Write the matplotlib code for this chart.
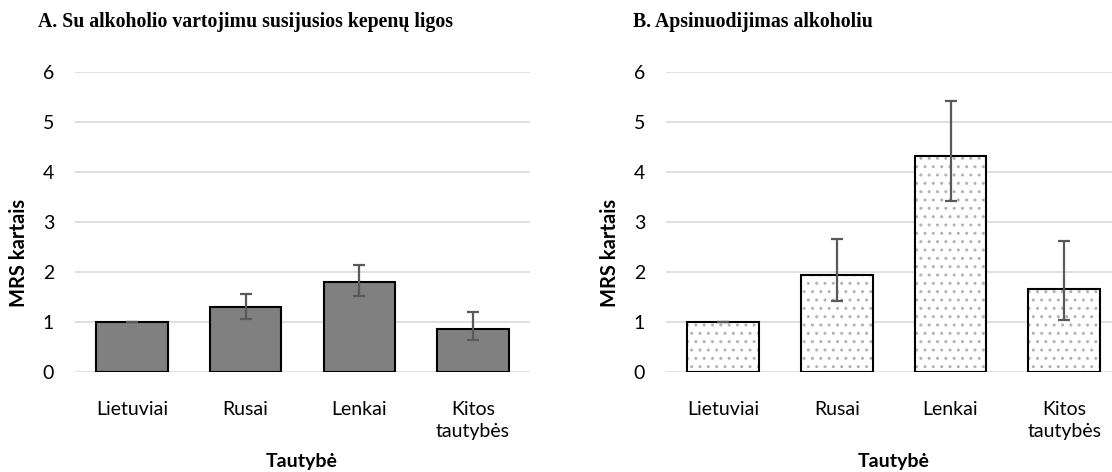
import matplotlib
matplotlib.use("Agg")
import matplotlib.pyplot as plt
import numpy as np

categories = ["Lietuviai", "Rusai", "Lenkai", "Kitos\ntautybės"]

# Panel A: alcohol-related liver disease
a_values = [1.00, 1.30, 1.80, 0.87]
a_low = [1.00, 1.07, 1.52, 0.65]
a_high = [1.00, 1.57, 2.14, 1.20]

# Panel B: alcohol poisoning
b_values = [1.00, 1.94, 4.32, 1.67]
b_low = [1.00, 1.42, 3.43, 1.05]
b_high = [1.00, 2.66, 5.43, 2.62]

yticks = [0, 1, 2, 3, 4, 5, 6]
title_a = "A. Su alkoholio vartojimu susijusios kepenų ligos"
title_b = "B. Apsinuodijimas alkoholiu"
ylabel = "MRS kartais"
xlabel = "Tautybė"

W, H = 1112, 472
fig = plt.figure(figsize=(W / 100, H / 100), dpi=100)

tick_font = ["Lato", "DejaVu Sans"]
serif_font = ["Liberation Serif", "DejaVu Serif"]

def px_axes(left, right, bottom, top):
    return fig.add_axes([left / W, 1 - bottom / H, (right - left) / W, (bottom - top) / H])

axA = px_axes(75, 530, 372, 72)
axB = px_axes(666, 1112, 372, 72)

def style(ax, xmax):
    ax.set_ylim(0, 6)
    ax.set_xlim(-0.5, xmax)
    ax.set_yticks(yticks)
    ax.grid(axis="y", color="#d9d9d9", linewidth=1.2, zorder=0)
    ax.set_axisbelow(True)
    for s in ax.spines.values():
        s.set_visible(False)
    ax.tick_params(axis="both", length=0, labelsize=14, colors="black")
    ax.tick_params(axis="y", pad=15)
    ax.tick_params(axis="x", pad=21)
    ax.set_xticks(np.arange(len(categories)))
    ax.set_xticklabels(categories, fontfamily=tick_font, linespacing=1.35)
    for lab in ax.get_yticklabels():
        lab.set_fontfamily(tick_font)

x = np.arange(len(categories))
bw = 0.63

# Panel A
style(axA, 3.5)
axA.bar(x, a_values, width=bw, color="#808080", edgecolor="black", linewidth=1.5, zorder=2)
a_err = [np.array(a_values) - np.array(a_low), np.array(a_high) - np.array(a_values)]
axA.errorbar(x, a_values, yerr=a_err, fmt="none", ecolor="#595959", elinewidth=1.6,
             capsize=4.5, capthick=1.6, zorder=3)

# Panel B
style(axB, -0.5 + 446 / 113.8)
plt.rcParams["hatch.linewidth"] = 1.0
axB.bar(x, b_values, width=bw, color="white", edgecolor="#b3b3b3", linewidth=0,
        hatch="..", zorder=2)
axB.bar(x, b_values, width=bw, fill=False, edgecolor="black", linewidth=1.5, zorder=2.5)
b_err = [np.array(b_values) - np.array(b_low), np.array(b_high) - np.array(b_values)]
axB.errorbar(x, b_values, yerr=b_err, fmt="none", ecolor="#595959", elinewidth=1.6,
             capsize=4.5, capthick=1.6, zorder=3)

# Titles
fig.text(38 / W, 1 - 27 / H, title_a, fontfamily=serif_font, fontweight="bold",
         fontsize=14.2, va="baseline", ha="left")
fig.text(633 / W, 1 - 27 / H, title_b, fontfamily=serif_font, fontweight="bold",
         fontsize=14.2, va="baseline", ha="left")

# Axis labels
for xc in (19, 610):
    fig.text(xc / W, 1 - 253 / H, ylabel, rotation=90, fontfamily=tick_font,
             fontweight="bold", fontsize=14.5, ha="center", va="center")
for xc in (302, 894):
    fig.text(xc / W, 1 - 461 / H, xlabel, fontfamily=tick_font,
             fontweight="bold", fontsize=14, ha="center", va="center")

fig.savefig("out.png", dpi=100)
